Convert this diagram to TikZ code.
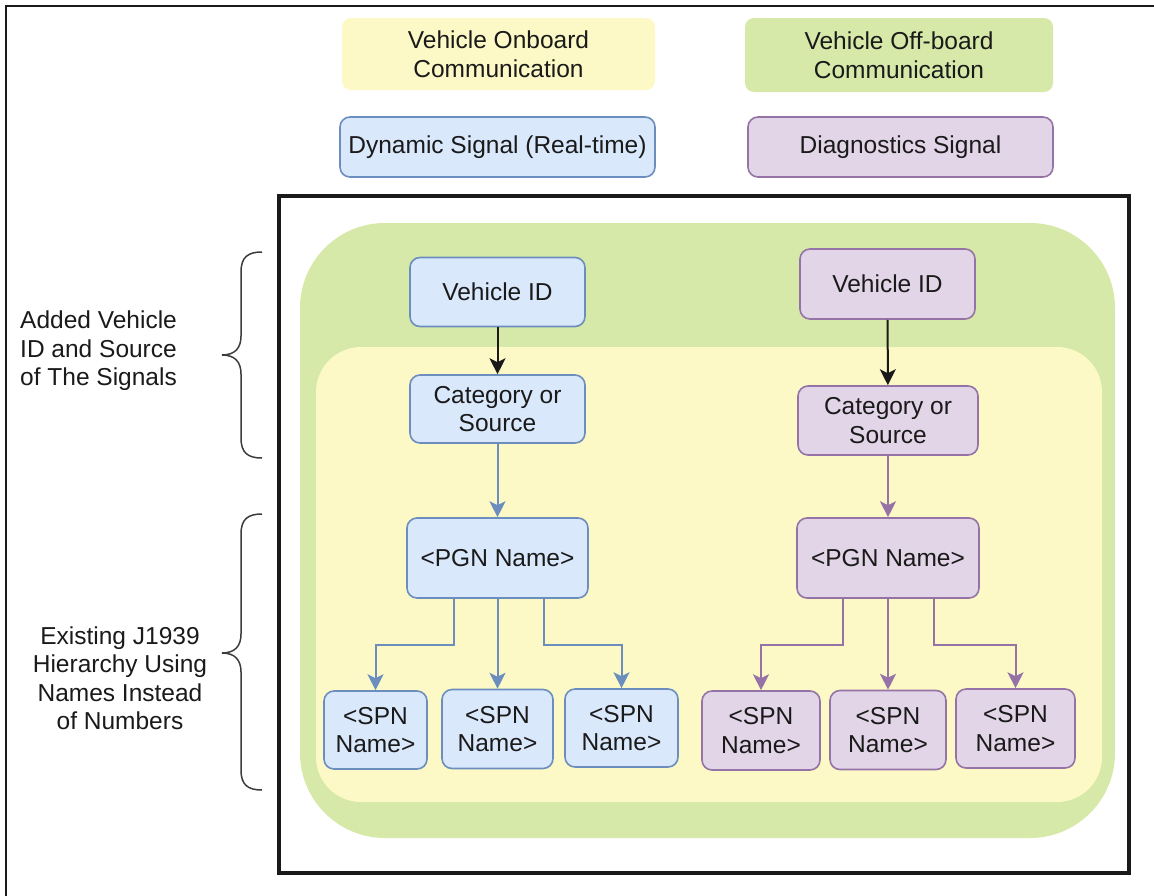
\documentclass[tikz,border=0pt]{standalone}
\usepackage{fontspec}
\setmainfont{Liberation Sans}
\usetikzlibrary{arrows.meta,calc}

\definecolor{onfill}{HTML}{FCF9C6}
\definecolor{offfill}{HTML}{D6E9A9}
\definecolor{dynfill}{HTML}{DAE8FC}
\definecolor{dynline}{HTML}{6C8EBF}
\definecolor{diagfill}{HTML}{E1D5E7}
\definecolor{diagline}{HTML}{9673A6}
\definecolor{ink}{HTML}{1A1A1A}

\begin{document}
\begin{tikzpicture}[x=1pt,y=-1pt,
  every node/.style={font=\fontsize{24.5}{28.5}\selectfont, text=ink, align=center, inner sep=0pt},
  legendbox/.style={rounded corners=9pt},
  dynbox/.style={draw=dynline, fill=dynfill, line width=1.6pt, rounded corners=10pt},
  diagbox/.style={draw=diagline, fill=diagfill, line width=1.6pt, rounded corners=10pt},
  tip/.style={-{Stealth[length=16pt,width=16pt,inset=4pt]}},
  blackarrow/.style={tip, draw=ink, line width=2pt},
  dynarrow/.style={tip, draw=dynline, line width=2pt},
  diagarrow/.style={tip, draw=diagline, line width=2pt},
  bracestyle/.style={draw=ink!85, line width=1.5pt}
]
\useasboundingbox (0,0) rectangle (1154,895);

% page frame (top and left edges)
\draw[line width=2pt, ink] (6,900) -- (6,6) -- (1160,6);

% legend
\node[legendbox, fill=onfill, minimum width=313pt, minimum height=72pt] (onboard) at (498.5,54) {Vehicle Onboard\\Communication};
\node[legendbox, fill=offfill, minimum width=308pt, minimum height=74pt] (offboard) at (899,55) {Vehicle Off-board\\Communication};
\node[dynbox, minimum width=315pt, minimum height=60pt] (dynleg) at (497.5,147) {Dynamic Signal (Real-time)};
\node[diagbox, minimum width=305pt, minimum height=60pt] (diagleg) at (900.5,147) {Diagnostics Signal};

% main frame and nested regions
\draw[line width=3.5pt, ink] (279,196) rectangle (1129,873);
\fill[offfill, rounded corners=85pt] (300,223) rectangle (1115,838);
\fill[onfill, rounded corners=45pt] (316,347) rectangle (1102,802);

% left hierarchy (dynamic signals)
\node[dynbox, minimum width=175pt, minimum height=69pt] (vid1) at (497.5,292) {Vehicle ID};
\node[dynbox, minimum width=175pt, minimum height=68pt] (cat1) at (497.5,409) {Category or\\Source};
\node[dynbox, minimum width=181pt, minimum height=80pt] (pgn1) at (497.5,558) {<PGN Name>};
\node[dynbox, minimum width=103pt, minimum height=78pt] (spnL1) at (375.5,730) {<SPN\\Name>};
\node[dynbox, minimum width=111pt, minimum height=79pt] (spnL2) at (497.5,729) {<SPN\\Name>};
\node[dynbox, minimum width=113pt, minimum height=78pt] (spnL3) at (621.5,728) {<SPN\\Name>};

\draw[blackarrow] (vid1) -- (cat1);
\draw[dynarrow] (cat1) -- (pgn1);
\draw[dynarrow] ([xshift=-44pt]pgn1.south) -- ++(0,46) -| (spnL1.north);
\draw[dynarrow] (pgn1) -- (spnL2);
\draw[dynarrow] ([xshift=46pt]pgn1.south) -- ++(0,46) -| (spnL3.north);

% right hierarchy (diagnostics signals)
\node[diagbox, minimum width=175pt, minimum height=70pt] (vid2) at (887.5,284) {Vehicle ID};
\node[diagbox, minimum width=180pt, minimum height=69pt] (cat2) at (888,420.5) {Category or\\Source};
\node[diagbox, minimum width=182pt, minimum height=80pt] (pgn2) at (888,558) {<PGN Name>};
\node[diagbox, minimum width=118pt, minimum height=79pt] (spnR1) at (761,730.5) {<SPN\\Name>};
\node[diagbox, minimum width=116pt, minimum height=79pt] (spnR2) at (888,730) {<SPN\\Name>};
\node[diagbox, minimum width=119pt, minimum height=79pt] (spnR3) at (1015.5,728.5) {<SPN\\Name>};

\draw[blackarrow] (vid2) -- (cat2);
\draw[diagarrow] (cat2) -- (pgn2);
\draw[diagarrow] ([xshift=-45pt]pgn2.south) -- ++(0,46) -| (spnR1.north);
\draw[diagarrow] (pgn2) -- (spnR2);
\draw[diagarrow] ([xshift=46pt]pgn2.south) -- ++(0,46) -| (spnR3.north);

% curly braces grouping the levels
\draw[bracestyle] (262,252) .. controls (248,252) and (241,257) .. (241,272)
  -- (241,336) .. controls (241,348) and (235,355) .. (222,355)
  .. controls (235,355) and (241,362) .. (241,374)
  -- (241,438) .. controls (241,453) and (248,458) .. (262,458);
\draw[bracestyle] (262,514) .. controls (248,514) and (241,519) .. (241,534)
  -- (241,634) .. controls (241,646) and (235,653) .. (222,653)
  .. controls (235,653) and (241,660) .. (241,672)
  -- (241,770) .. controls (241,785) and (248,790) .. (262,790);

% side annotations
\node[anchor=west, align=left] (addlabel) at (20,351) {Added Vehicle\\ID and Source\\of The Signals};
\node (j1939label) at (120,678) {Existing J1939\\Hierarchy Using\\Names Instead\\of Numbers};
\end{tikzpicture}
\end{document}
